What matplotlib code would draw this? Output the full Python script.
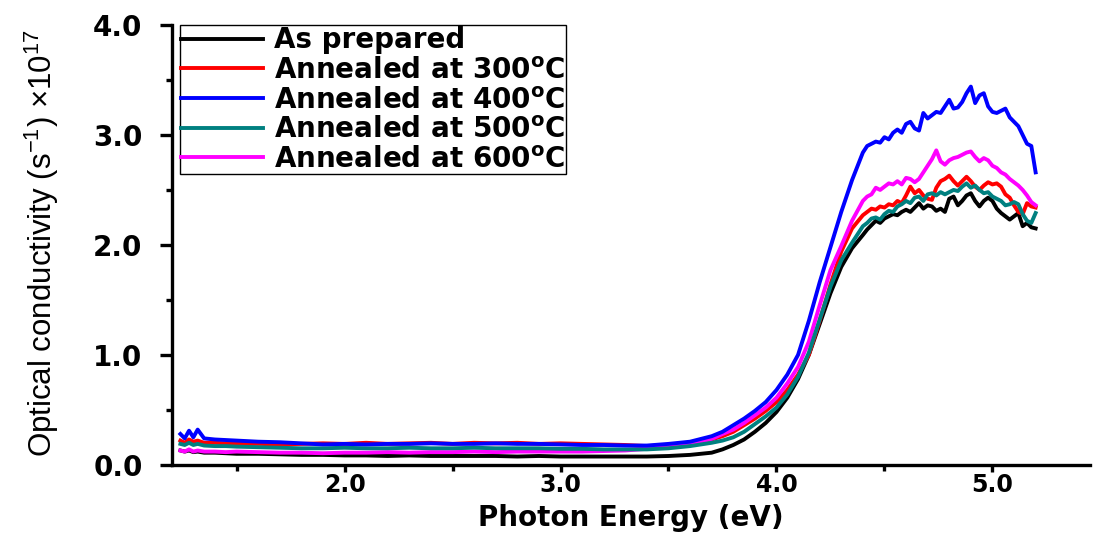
import matplotlib
matplotlib.use("Agg")
import matplotlib.pyplot as plt
from matplotlib.ticker import MultipleLocator, FormatStrFormatter

# photon energy grid (eV)
energy = [1.24, 1.26, 1.28, 1.30, 1.32, 1.35, 1.40, 1.45, 1.50, 1.60, 1.70, 1.80, 1.90,
          2.00, 2.10, 2.20, 2.30, 2.40, 2.50, 2.60, 2.70, 2.80, 2.90, 3.00, 3.10, 3.20,
          3.30, 3.40, 3.50, 3.60, 3.70,
          3.75, 3.80, 3.85, 3.90, 3.95, 4.00, 4.05, 4.10, 4.15, 4.20, 4.25, 4.30, 4.35, 4.40,
          4.42, 4.44, 4.46, 4.48, 4.50, 4.52, 4.54, 4.56, 4.58, 4.60, 4.62, 4.64, 4.66, 4.68,
          4.70, 4.72, 4.74, 4.76, 4.78, 4.80, 4.82, 4.84, 4.86, 4.88, 4.90, 4.92, 4.94, 4.96,
          4.98, 5.00, 5.02, 5.04, 5.06, 5.08, 5.10, 5.12, 5.14, 5.16, 5.18, 5.20]

# optical conductivity (x 10^17 s^-1)
as_prepared = [0.13, 0.12, 0.13, 0.115, 0.12, 0.11, 0.11, 0.105, 0.10, 0.10, 0.095, 0.09, 0.09,
               0.085, 0.085, 0.08, 0.085, 0.08, 0.08, 0.08, 0.08, 0.075, 0.08, 0.075, 0.075, 0.075,
               0.075, 0.075, 0.08, 0.09, 0.11,
               0.14, 0.18, 0.23, 0.30, 0.38, 0.48, 0.61, 0.78, 1.00, 1.28, 1.56, 1.80, 1.97, 2.09,
               2.14, 2.18, 2.22, 2.20, 2.24, 2.26, 2.28, 2.27, 2.30, 2.32, 2.30, 2.34, 2.38, 2.33,
               2.36, 2.35, 2.31, 2.33, 2.30, 2.42, 2.44, 2.36, 2.40, 2.45, 2.47, 2.40, 2.35, 2.40,
               2.43, 2.40, 2.33, 2.29, 2.26, 2.23, 2.26, 2.29, 2.17, 2.20, 2.16, 2.15]

annealed_300 = [0.22, 0.20, 0.23, 0.21, 0.22, 0.20, 0.20, 0.195, 0.19, 0.19, 0.185, 0.19, 0.195,
                0.19, 0.20, 0.19, 0.195, 0.20, 0.19, 0.20, 0.195, 0.20, 0.19, 0.195, 0.19, 0.185,
                0.18, 0.17, 0.18, 0.195, 0.23,
                0.26, 0.30, 0.36, 0.42, 0.49, 0.57, 0.68, 0.82, 1.00, 1.31, 1.64, 1.94, 2.15, 2.27,
                2.30, 2.33, 2.32, 2.35, 2.34, 2.37, 2.36, 2.40, 2.38, 2.45, 2.53, 2.47, 2.50, 2.45,
                2.42, 2.41, 2.52, 2.58, 2.60, 2.63, 2.58, 2.54, 2.58, 2.62, 2.58, 2.53, 2.50, 2.54,
                2.57, 2.55, 2.56, 2.53, 2.46, 2.43, 2.36, 2.30, 2.28, 2.38, 2.35, 2.34]

annealed_400 = [0.28, 0.24, 0.31, 0.25, 0.32, 0.24, 0.23, 0.225, 0.22, 0.21, 0.205, 0.195, 0.185,
                0.19, 0.185, 0.19, 0.19, 0.195, 0.19, 0.19, 0.195, 0.19, 0.19, 0.185, 0.18, 0.18,
                0.175, 0.175, 0.19, 0.21, 0.26,
                0.30, 0.36, 0.42, 0.49, 0.57, 0.68, 0.82, 1.00, 1.31, 1.66, 1.98, 2.30, 2.59, 2.84,
                2.90, 2.92, 2.94, 2.93, 2.98, 2.96, 3.02, 3.05, 3.02, 3.10, 3.12, 3.06, 3.04, 3.20,
                3.15, 3.18, 3.21, 3.20, 3.26, 3.32, 3.24, 3.25, 3.30, 3.38, 3.44, 3.29, 3.36, 3.38,
                3.26, 3.21, 3.20, 3.22, 3.24, 3.16, 3.12, 3.08, 3.00, 2.92, 2.90, 2.66]

annealed_500 = [0.19, 0.18, 0.20, 0.18, 0.19, 0.175, 0.17, 0.17, 0.165, 0.16, 0.155, 0.15, 0.15,
                0.155, 0.15, 0.15, 0.155, 0.15, 0.15, 0.155, 0.15, 0.15, 0.15, 0.145, 0.145, 0.14,
                0.14, 0.14, 0.15, 0.17, 0.20,
                0.22, 0.25, 0.30, 0.37, 0.44, 0.52, 0.64, 0.80, 1.02, 1.32, 1.62, 1.86, 2.02, 2.17,
                2.20, 2.24, 2.25, 2.23, 2.28, 2.31, 2.30, 2.35, 2.37, 2.40, 2.38, 2.43, 2.44, 2.40,
                2.46, 2.47, 2.45, 2.48, 2.46, 2.48, 2.50, 2.49, 2.53, 2.56, 2.52, 2.54, 2.50, 2.47,
                2.48, 2.44, 2.42, 2.40, 2.36, 2.37, 2.39, 2.37, 2.28, 2.22, 2.20, 2.29]

annealed_600 = [0.13, 0.12, 0.14, 0.12, 0.13, 0.12, 0.12, 0.115, 0.12, 0.115, 0.11, 0.11, 0.105,
                0.11, 0.11, 0.115, 0.11, 0.115, 0.115, 0.12, 0.115, 0.12, 0.12, 0.12, 0.12, 0.125,
                0.13, 0.145, 0.165, 0.19, 0.235,
                0.28, 0.32, 0.38, 0.45, 0.52, 0.61, 0.74, 0.89, 1.12, 1.45, 1.77, 1.99, 2.22, 2.40,
                2.44, 2.46, 2.52, 2.50, 2.53, 2.56, 2.55, 2.58, 2.55, 2.61, 2.60, 2.57, 2.60, 2.66,
                2.72, 2.78, 2.86, 2.76, 2.73, 2.77, 2.79, 2.80, 2.82, 2.84, 2.85, 2.80, 2.76, 2.79,
                2.77, 2.72, 2.70, 2.66, 2.64, 2.60, 2.57, 2.54, 2.50, 2.45, 2.39, 2.36]

labels = ["As prepared",
          r"Annealed at 300$^{\mathbf{o}}$C",
          r"Annealed at 400$^{\mathbf{o}}$C",
          r"Annealed at 500$^{\mathbf{o}}$C",
          r"Annealed at 600$^{\mathbf{o}}$C"]
colors = ["black", "red", "blue", "#008080", "magenta"]
series = [as_prepared, annealed_300, annealed_400, annealed_500, annealed_600]

plt.rcParams["font.family"] = "DejaVu Sans"
plt.rcParams["mathtext.fontset"] = "custom"
plt.rcParams["mathtext.rm"] = "Liberation Sans"
plt.rcParams["mathtext.it"] = "Liberation Sans"
plt.rcParams["mathtext.bf"] = "DejaVu Sans:bold"

fig = plt.figure(figsize=(10.94, 5.33), dpi=100)
ax = fig.add_axes([0.157, 0.128, 0.839, 0.825])

# draw order: blue on top
lines = {}
for i in [0, 1, 4, 3, 2]:
    ln, = ax.plot(energy, series[i], color=colors[i], lw=2.8, label=labels[i],
                  solid_joinstyle="round")
    lines[i] = ln

ax.set_xlim(1.2, 5.45)
ax.set_ylim(0, 4.0)
ax.xaxis.set_major_locator(MultipleLocator(1.0))
ax.xaxis.set_minor_locator(MultipleLocator(0.5))
ax.yaxis.set_major_locator(MultipleLocator(1.0))
ax.yaxis.set_minor_locator(MultipleLocator(0.5))
ax.xaxis.set_major_formatter(FormatStrFormatter("%.1f"))
ax.yaxis.set_major_formatter(FormatStrFormatter("%.1f"))

for s in ["top", "right"]:
    ax.spines[s].set_visible(False)
for s in ["left", "bottom"]:
    ax.spines[s].set_linewidth(2.4)

ax.tick_params(axis="both", which="minor", direction="out", length=4.5, width=2.4)
ax.tick_params(axis="y", which="major", direction="out", width=2.4, length=9, pad=12,
               labelsize=20)
ax.tick_params(axis="x", which="major", direction="out", width=2.4, length=5, pad=0.8,
               labelsize=17)
for t in ax.get_xticklabels() + ax.get_yticklabels():
    t.set_fontweight("bold")

ax.set_xlabel("Photon Energy (eV)", fontsize=20, fontweight="bold", va="bottom")
ax.xaxis.set_label_coords(0.5, -0.154)
ax.set_ylabel(r"Optical conductivity (s$^{-1}$) $\times$10$^{17}$",
              fontsize=22.5, family="Liberation Sans", va="center")
ax.yaxis.set_label_coords(-0.142, 0.505)

handles = [lines[i] for i in range(5)]
leg = ax.legend(handles, labels, loc="upper left", bbox_to_anchor=(0.0087, 1.0),
                borderaxespad=0, frameon=True, fancybox=False, edgecolor="black",
                framealpha=1, handlelength=2.95, handletextpad=0.4, labelspacing=0.06,
                borderpad=0.05, prop={"weight": "bold", "size": 20})
leg.get_frame().set_linewidth(1.0)

fig.savefig("out.png", dpi=100)
